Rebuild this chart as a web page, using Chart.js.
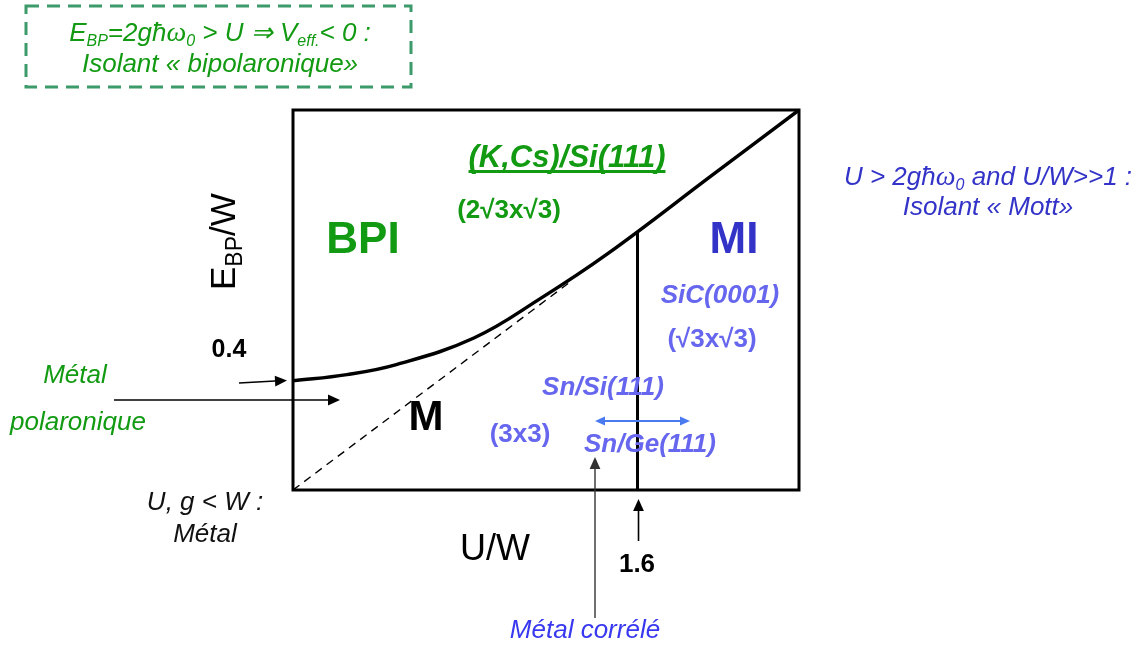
<!DOCTYPE html>
<html>
<head>
<meta charset="utf-8">
<script src="https://cdn.jsdelivr.net/npm/chart.js@4/dist/chart.umd.min.js"></script>
<style>
  body { margin: 0; background: #fff; }
</style>
</head>
<body>
<canvas id="phase" width="1147" height="650"></canvas>
<script>
// phase boundary BPI / (M, MI)
var boundaryU = [0, 0.25, 0.48, 0.84, 1.15, 1.46, 1.95, 2.35];
var boundaryE = [0.402, 0.425, 0.462, 0.560, 0.706, 0.870, 1.162, 1.4];
// dashed diagonal (under the curve)
var diagU = [0, 1.30];
var diagE = [0, 0.774];
// Mott line at U/W = 1.6
var mottU = [1.6, 1.6];
var mottE = [0, 0.953];
// marked values
var tickU = 1.6;
var tickE = 0.4;

var GREEN = '#129a12';
var BLUE = '#3333c8';
var LIGHT = '#6666ee';
var SANS = '"Liberation Sans", Arial, sans-serif';

function pts(xs, ys) {
    return xs.map(function(x, i) { return { x: x, y: ys[i] }; });
}

// draws a run of [text, font, dy] pieces, left or centered
function rich(ctx, parts, x, y, align) {
    var w = 0;
    parts.forEach(function(p) { ctx.font = p[1]; w += ctx.measureText(p[0]).width; });
    var cx = align == 'center' ? x - w / 2 : x;
    ctx.textAlign = 'left';
    parts.forEach(function(p) {
        ctx.font = p[1];
        ctx.fillText(p[0], cx, y + (p[2] || 0));
        cx += ctx.measureText(p[0]).width;
    });
    return w;
}

function arrow(ctx, x1, y1, x2, y2, color, lw, head, both) {
    ctx.save();
    ctx.strokeStyle = color; ctx.fillStyle = color; ctx.lineWidth = lw;
    ctx.setLineDash([]);
    var a = Math.atan2(y2 - y1, x2 - x1);
    ctx.beginPath();
    ctx.moveTo(x1 + (both ? Math.cos(a) * head : 0), y1 + (both ? Math.sin(a) * head : 0));
    ctx.lineTo(x2 - Math.cos(a) * head, y2 - Math.sin(a) * head);
    ctx.stroke();
    var tip = function(x, y, ang) {
        ctx.beginPath();
        ctx.moveTo(x, y);
        ctx.lineTo(x - head * Math.cos(ang) + head * 0.45 * Math.sin(ang), y - head * Math.sin(ang) - head * 0.45 * Math.cos(ang));
        ctx.lineTo(x - head * Math.cos(ang) - head * 0.45 * Math.sin(ang), y - head * Math.sin(ang) + head * 0.45 * Math.cos(ang));
        ctx.closePath();
        ctx.fill();
    };
    tip(x2, y2, a);
    if (both) tip(x1, y1, a + Math.PI);
    ctx.restore();
}

var frame = {
    id: 'frame',
    afterDatasetsDraw: function(chart) {
        var ctx = chart.ctx, a = chart.chartArea;
        ctx.save();
        ctx.strokeStyle = '#000';
        ctx.lineWidth = 3;
        ctx.strokeRect(a.left, a.top, a.right - a.left, a.bottom - a.top);
        ctx.restore();
    }
};

var labels = {
    id: 'labels',
    afterDraw: function(chart) {
        var ctx = chart.ctx;
        var xs = chart.scales.x, ys = chart.scales.y;
        var a = chart.chartArea;
        var x16 = xs.getPixelForValue(tickU);
        var y04 = ys.getPixelForValue(tickE);
        ctx.save();
        ctx.textBaseline = 'alphabetic';

        // top dashed box
        ctx.strokeStyle = '#3d9a6a';
        ctx.lineWidth = 3;
        ctx.setLineDash([13, 8]);
        ctx.strokeRect(26, 6, 385, 81);
        ctx.setLineDash([]);
        ctx.fillStyle = GREEN;
        var it = 'italic 26px ' + SANS, its = 'italic 16px ' + SANS;
        var om = 'italic 28px "Liberation Serif", serif';
        rich(ctx, [['E', it], ['BP', its, 5], ['=2għ', it], ['ω', om], ['0', its, 5],
                   [' > U ⇒ V', it], ['eff.', its, 5], ['< 0 :', it]], 220, 41, 'center');
        rich(ctx, [['Isolant « bipolaronique»', it]], 220, 72, 'center');

        // Mott text
        ctx.fillStyle = BLUE;
        rich(ctx, [['U > 2għ', it], ['ω', om], ['0', its, 5], [' and U/W>>1 :', it]], 988, 185, 'center');
        rich(ctx, [['Isolant « Mott»', it]], 988, 215, 'center');

        // region names
        ctx.fillStyle = GREEN;
        rich(ctx, [['BPI', 'bold 44px ' + SANS]], 363, 253, 'center');
        ctx.fillStyle = BLUE;
        rich(ctx, [['MI', 'bold 44px ' + SANS]], 734, 253, 'center');
        ctx.fillStyle = '#000';
        rich(ctx, [['M', 'bold 42px ' + SANS]], 426, 430, 'center');

        // systems
        ctx.fillStyle = GREEN;
        var w = rich(ctx, [['(K,Cs)/Si(111)', 'bold italic 31px ' + SANS]], 567, 167, 'center');
        ctx.fillRect(567 - w / 2, 170, w, 3);
        rich(ctx, [['(2√3x√3)', 'bold 26px ' + SANS]], 509, 218, 'center');
        ctx.fillStyle = LIGHT;
        rich(ctx, [['SiC(0001)', 'bold italic 26px ' + SANS]], 720, 303, 'center');
        rich(ctx, [['(√3x√3)', 'bold 26px ' + SANS]], 712, 347, 'center');
        rich(ctx, [['Sn/Si(111)', 'bold italic 26px ' + SANS]], 603, 395, 'center');
        rich(ctx, [['(3x3)', 'bold 26px ' + SANS]], 520, 442, 'center');
        rich(ctx, [['Sn/Ge(111)', 'bold italic 26px ' + SANS]], 650, 452, 'center');
        arrow(ctx, 595, 421, 690, 421, '#4a7af0', 2, 10, true);

        // axis titles
        ctx.fillStyle = '#000';
        ctx.save();
        ctx.translate(235, 290);
        ctx.rotate(-Math.PI / 2);
        rich(ctx, [['E', '35px ' + SANS], ['BP', '23px ' + SANS, 7], ['/W', '35px ' + SANS]], 0, 0, 'left');
        ctx.restore();
        rich(ctx, [['U/W', '36px ' + SANS]], 495, 560, 'center');

        // marked values with arrows
        rich(ctx, [['0.4', 'bold 25px ' + SANS]], 229, 357, 'center');
        arrow(ctx, 239, y04 + 1.5, a.left - 6, y04 - 1, '#000', 1.6, 12, false);
        rich(ctx, [['1.6', 'bold 26px ' + SANS]], 637, 572, 'center');
        arrow(ctx, x16 + 1, 541, x16 + 1, a.bottom + 9, '#000', 1.6, 12, false);

        // left notes
        ctx.fillStyle = GREEN;
        rich(ctx, [['Métal', 'italic 26px ' + SANS]], 75, 383, 'center');
        rich(ctx, [['polaronique', 'italic 26px ' + SANS]], 78, 430, 'center');
        arrow(ctx, 114, 400, 340, 400, '#000', 1.4, 12, false);
        ctx.fillStyle = '#111';
        rich(ctx, [['U, g < W :', 'italic 26px ' + SANS]], 205, 510, 'center');
        rich(ctx, [['Métal', 'italic 26px ' + SANS]], 205, 542, 'center');

        // correlated metal
        ctx.fillStyle = '#3838f0';
        rich(ctx, [['Métal corrélé', 'italic 26px ' + SANS]], 585, 638, 'center');
        arrow(ctx, 595, 618, 595, 457, '#333', 1.4, 12, false);

        ctx.restore();
    }
};

var ctx = document.getElementById('phase').getContext('2d');
var chart = new Chart(ctx, {
    type: 'scatter',
    data: {
        datasets: [{
            data: pts(boundaryU, boundaryE),
            showLine: true,
            borderColor: '#000',
            borderWidth: 3.5,
            pointRadius: 0,
            tension: 0.4
        }, {
            data: pts(diagU, diagE),
            showLine: true,
            borderColor: '#000',
            borderWidth: 1.4,
            borderDash: [8, 6],
            pointRadius: 0
        }, {
            data: pts(mottU, mottE),
            showLine: true,
            borderColor: '#000',
            borderWidth: 3,
            pointRadius: 0
        }]
    },
    options: {
        responsive: false,
        animation: false,
        layout: { padding: { left: 293, right: 348, top: 110, bottom: 160 } },
        plugins: { legend: { display: false }, tooltip: { enabled: false } },
        scales: {
            x: { type: 'linear', min: 0, max: 2.35, display: false },
            y: { type: 'linear', min: 0, max: 1.4, display: false }
        }
    },
    plugins: [frame, labels]
});
</script>
</body>
</html>
